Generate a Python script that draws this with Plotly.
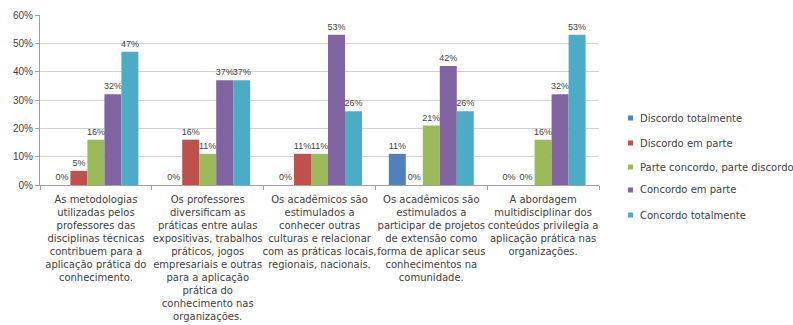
import plotly.graph_objects as go

categories = [
    "As metodologias<br>utilizadas pelos<br>professores das<br>disciplinas técnicas<br>contribuem para a<br>aplicação prática do<br>conhecimento.",
    "Os professores<br>diversificam as<br>práticas entre aulas<br>expositivas, trabalhos<br>práticos, jogos<br>empresariais e outras<br>para a aplicação<br>prática do<br>conhecimento nas<br>organizações.",
    "Os acadêmicos são<br>estimulados a<br>conhecer outras<br>culturas e relacionar<br>com as práticas locais,<br>regionais, nacionais.",
    "Os acadêmicos são<br>estimulados a<br>participar de projetos<br>de extensão como<br>forma de aplicar seus<br>conhecimentos na<br>comunidade.",
    "A abordagem<br>multidisciplinar dos<br>conteúdos privilegia a<br>aplicação prática nas<br>organizações.",
]

series_names = [
    "Discordo totalmente",
    "Discordo em parte",
    "Parte concordo, parte discordo",
    "Concordo em parte",
    "Concordo totalmente",
]

discordo_totalmente = [0, 0, 0, 11, 0]
discordo_em_parte = [5, 16, 11, 0, 0]
parte_concordo = [16, 11, 11, 21, 16]
concordo_em_parte = [32, 37, 53, 42, 32]
concordo_totalmente = [47, 37, 26, 26, 53]

series_values = [discordo_totalmente, discordo_em_parte, parte_concordo,
                 concordo_em_parte, concordo_totalmente]
colors = ["#4F81BD", "#C0504D", "#9BBB59", "#8064A2", "#4BACC6"]

ytick_vals = [0, 10, 20, 30, 40, 50, 60]
ytick_text = ["0%", "10%", "20%", "30%", "40%", "50%", "60%"]

FONT = "Liberation Sans"
WIDE = "DejaVu Sans"
TXT = "#404040"

W, H = 793, 325
ML, MR, MT, MB = 40, 194, 15, 140
PW = W - ML - MR
PH = H - MT - MB

fig = go.Figure()
for name, vals, col in zip(series_names, series_values, colors):
    fig.add_trace(go.Bar(
        x=categories, y=vals, name=name,
        marker=dict(color=col, line=dict(width=0)),
        text=[f"{v}%" for v in vals],
        textposition="outside",
        constraintext="none",
        textfont=dict(family=FONT, size=9, color=TXT),
        cliponaxis=False,
        showlegend=False,
    ))

# legend drawn as small squares + text (Excel-style)
legend_y_px = [118, 143, 167, 190, 215]
for name, col, ypx in zip(series_names, colors, legend_y_px):
    x0 = (628 - ML) / PW
    x1 = (633 - ML) / PW
    yc = (H - MB - ypx) / PH
    hh = 2.5 / PH
    fig.add_shape(type="rect", xref="paper", yref="paper",
                  x0=x0, x1=x1, y0=yc - hh, y1=yc + hh,
                  fillcolor=col, line=dict(width=0))
    fig.add_annotation(xref="paper", yref="paper", x=(638 - ML) / PW, y=yc,
                       xanchor="left", yanchor="middle", showarrow=False,
                       text=name, font=dict(family=WIDE, size=10, color=TXT))

fig.update_layout(
    width=W, height=H,
    margin=dict(l=ML, r=MR, t=MT, b=MB, autoexpand=False),
    paper_bgcolor="white", plot_bgcolor="white",
    barmode="group", bargap=0.24, bargroupgap=0,
    font=dict(family=FONT, size=10, color=TXT),
    showlegend=False,
    uniformtext=dict(minsize=9, mode="show"),
)
fig.update_yaxes(
    range=[0, 60], tickvals=ytick_vals, ticktext=ytick_text,
    showgrid=True, gridcolor="#D0D0D0", gridwidth=1,
    showline=True, linecolor="#A0A0A0", linewidth=1,
    ticks="outside", ticklen=4, tickcolor="#A0A0A0",
    tickfont=dict(family=FONT, size=10, color=TXT),
    zeroline=False, automargin=False,
)
fig.update_xaxes(
    showline=True, linecolor="#A0A0A0", linewidth=1,
    ticks="outside", ticklen=4, tickcolor="#A0A0A0",
    tickson="boundaries",
    tickangle=0, automargin=False,
    ticklabelstandoff=5,
    tickfont=dict(family=WIDE, size=10, color=TXT),
)

fig.write_html("out.html")
